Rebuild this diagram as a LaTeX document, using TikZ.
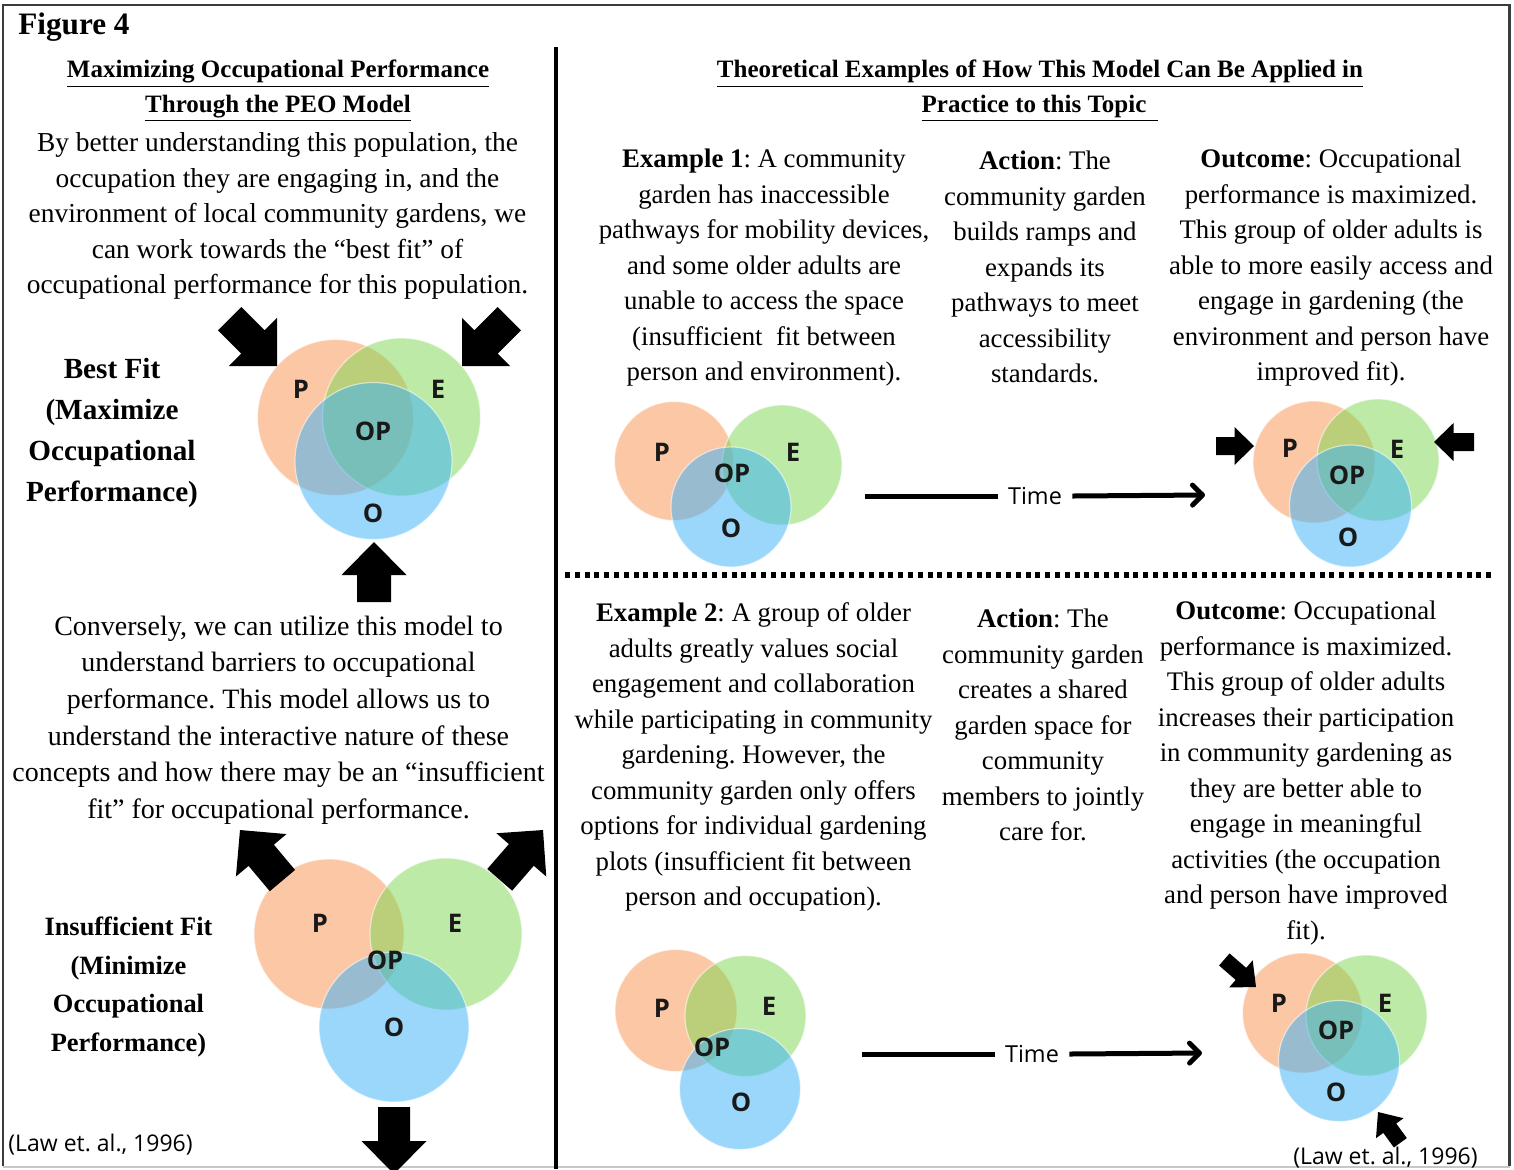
\documentclass[tikz,border=0pt]{standalone}
\usepackage{fontspec}
\setmainfont{Liberation Serif}
\newfontfamily\vennfont{Open Sans}
\newfontfamily\plainsans{Open Sans}
\usetikzlibrary{arrows.meta}
\definecolor{pcol}{RGB}{249,145,77}
\definecolor{ecol}{RGB}{125,215,81}
\definecolor{ocol}{RGB}{55,177,249}
\definecolor{framecol}{RGB}{60,60,60}
\newcommand{\blkarrow}[7]{%
  \fill[black, shift={(#1,#2)}, rotate=#3] (0,0) -- (-#5,#6/2) -- (-#5,#7/2) -- (-#4,#7/2)
    -- (-#4,-#7/2) -- (-#5,-#7/2) -- (-#5,-#6/2) -- cycle;}
\frenchspacing
\begin{document}
\begin{tikzpicture}[x=0.5pt,y=-0.5pt,
  vc/.style={circle, inner sep=0pt, outer sep=0pt, fill opacity=0.5, draw=white, draw opacity=0.55, line width=0.6pt},
  vP/.style={vc, fill=pcol},
  vE/.style={vc, fill=ecol},
  vO/.style={vc, fill=ocol},
  vlab/.style={inner sep=0pt, text=black!90, font=\vennfont\bfseries\fontsize{12.8}{15}\selectfont},
  body/.style={inner sep=0pt, align=center, font=\frenchspacing\fontsize{13.4}{17.75}\selectfont},
  bodyleft/.style={inner sep=0pt, align=center, font=\frenchspacing\fontsize{13.7}{17.75}\selectfont},
  bodywide/.style={inner sep=0pt, align=center, font=\frenchspacing\fontsize{14}{18.3}\selectfont},
  ttl/.style={inner sep=0pt, align=center, font=\bfseries\fontsize{12.5}{17.25}\selectfont},
  bestlab/.style={inner sep=0pt, align=center, font=\bfseries\fontsize{14.6}{20.5}\selectfont},
  insuflab/.style={inner sep=0pt, align=center, font=\bfseries\fontsize{13.2}{19.25}\selectfont},
  timelab/.style={inner sep=5pt, font=\plainsans\fontsize{11.7}{14}\selectfont},
  lawlab/.style={inner sep=0pt, font=\plainsans\fontsize{11.5}{14}\selectfont},
  timeline/.style={line width=2.5pt, line cap=butt},
  timearrow/.style={line width=2.5pt, -{Straight Barb[length=5pt,width=10pt,line cap=round,line join=round]}}
]
\useasboundingbox (0,0) rectangle (1514,1169);
\clip (0,0) rectangle (1514,1169);
\fill[white] (0,0) rectangle (1514,1169);

% frame
\draw[framecol, line width=1.2pt] (3,1166) -- (3,5) -- (1509.5,5) -- (1509.5,1166);
\draw[black!22, line width=1pt] (3,1166.5) -- (1509.5,1166.5);
% divider
\draw[black, line width=2pt] (555.5,47) -- (555.5,1169);
\draw[black, line width=3pt, dash pattern=on 2.5pt off 2.4pt] (565,575) -- (1492,575);

% figure label
\node[anchor=base west, inner sep=0pt, font=\bfseries\fontsize{15.6}{18}\selectfont] (figlabel) at (18,34.5) {Figure 4};

% ---------- left column ----------
\node[ttl] (lefttitle) at (278,91) {\underline{Maximizing Occupational Performance}\\\underline{Through the PEO Model}};
\node[bodyleft] (para1) at (277.5,216) {By better understanding this population, the\\
occupation they are engaging in, and the\\
environment of local community gardens, we\\
can work towards the “best fit” of\\
occupational performance for this population.};
\node[bestlab] (bestfit) at (112,433) {Best Fit\\(Maximize\\Occupational\\Performance)};

% best fit venn
\node[vP, minimum size=78pt] (bP) at (335.5,417.5) {};
\node[vE, minimum size=79pt] (bE) at (401.5,417) {};
\node[vO, minimum size=78.5pt] (bO) at (373.5,461) {};
\node[vlab] (bPl) at (301,389) {P};
\node[vlab] (bEl) at (438,389) {E};
\node[vlab] (bOPl) at (373,431) {OP};
\node[vlab] (bOl) at (373,513) {O};
\blkarrow{277}{366}{-45}{67}{34}{68}{33}
\blkarrow{462}{366}{-135}{67}{34}{68}{33}
\blkarrow{374}{542}{90}{60}{33}{65}{34}

\node[bodywide] (para2) at (278.5,720) {Conversely, we can utilize this model to\\
understand barriers to occupational\\
performance. This model allows us to\\
understand the interactive nature of these\\
concepts and how there may be an “insufficient\\
fit” for occupational performance.};
\node[insuflab] (insuf) at (128.5,987) {Insufficient Fit\\(Minimize\\Occupational\\Performance)};

% insufficient venn
\node[vP, minimum size=75pt] (iP) at (329,934) {};
\node[vE, minimum size=76pt] (iE) at (446,934) {};
\node[vO, minimum size=75pt] (iO) at (394,1027) {};
\node[vlab] (iPl) at (320,923) {P};
\node[vlab] (iEl) at (455,923) {E};
\node[vlab] (iOPl) at (385,960) {OP};
\node[vlab] (iOl) at (394,1027) {O};
\blkarrow{240}{830}{130}{66}{33}{66}{33}
\blkarrow{543}{830}{49}{66}{33}{66}{33}
\blkarrow{394}{1174}{-90}{67}{33}{65}{32}

\node[lawlab, anchor=west] (lawleft) at (8,1145) {(Law et. al., 1996)};

% ---------- right column ----------
\node[ttl] (righttitle) at (1040,91) {\underline{Theoretical Examples of How This Model Can Be Applied in}\\\underline{Practice to this Topic\hspace{6pt}}};

\node[body] (ex1) at (764,268) {\textbf{Example 1}: A community\\
garden has inaccessible\\
pathways for mobility devices,\\
and some older adults are\\
unable to access the space\\
(insufficient\ \ fit between\\
person and environment).};
\node[body] (act1) at (1045,267) {\textbf{Action}: The\\
community garden\\
builds ramps and\\
expands its\\
pathways to meet\\
accessibility\\
standards.};
\node[body] (out1) at (1331,268) {\textbf{Outcome}: Occupational\\
performance is maximized.\\
This group of older adults is\\
able to more easily access and\\
engage in gardening (the\\
environment and person have\\
improved fit).};

% example 1 venns
\node[vP, minimum size=59.5pt] (aP) at (674,461) {};
\node[vE, minimum size=60pt] (aE) at (782,465) {};
\node[vO, minimum size=60pt] (aO) at (731,507) {};
\node[vlab] (aPl) at (662,452) {P};
\node[vlab] (aEl) at (793,452) {E};
\node[vlab] (aOPl) at (732,473) {OP};
\node[vlab] (aOl) at (731,528) {O};

\coordinate (t1s) at (865,496);
\node[timelab] (time1) at (1035,496) {Time};
\coordinate (t1e) at (1205,495);
\draw[timeline] (t1s) -- (time1.west);
\draw[timearrow] (time1.east) -- (t1e);

\node[vP, minimum size=61pt] (cP) at (1314,462) {};
\node[vE, minimum size=61pt] (cE) at (1378,460) {};
\node[vO, minimum size=61pt] (cO) at (1350.5,506) {};
\node[vlab] (cPl) at (1290,448) {P};
\node[vlab] (cEl) at (1397,449) {E};
\node[vlab] (cOPl) at (1347,475) {OP};
\node[vlab] (cOl) at (1348,537) {O};
\blkarrow{1254}{446}{0}{38}{19.5}{38}{18}
\blkarrow{1434}{442}{180}{40}{19.5}{38}{18}

% example 2
\node[body] (ex2) at (753.5,757) {\textbf{Example 2}: A group of older\\
adults greatly values social\\
engagement and collaboration\\
while participating in community\\
gardening. However, the\\
community garden only offers\\
options for individual gardening\\
plots (insufficient fit between\\
person and occupation).};
\node[body] (act2) at (1043,725) {\textbf{Action}: The\\
community garden\\
creates a shared\\
garden space for\\
community\\
members to jointly\\
care for.};
\node[body] (out2) at (1306,773) {\textbf{Outcome}: Occupational\\
performance is maximized.\\
This group of older adults\\
increases their participation\\
in community gardening as\\
they are better able to\\
engage in meaningful\\
activities (the occupation\\
and person have improved\\
fit).};

\node[vP, minimum size=61pt] (dP) at (676,1010.5) {};
\node[vE, minimum size=60.5pt] (dE) at (745.5,1016) {};
\node[vO, minimum size=60.5pt] (dO) at (740,1089) {};
\node[vlab] (dPl) at (662,1008) {P};
\node[vlab] (dEl) at (769,1006) {E};
\node[vlab] (dOPl) at (712,1047) {OP};
\node[vlab] (dOl) at (741,1102) {O};

\coordinate (t2s) at (862,1054);
\node[timelab] (time2) at (1032,1054) {Time};
\coordinate (t2e) at (1202,1053);
\draw[timeline] (t2s) -- (time2.west);
\draw[timearrow] (time2.east) -- (t2e);

\node[vP, minimum size=60pt] (fP) at (1302.5,1013) {};
\node[vE, minimum size=60.5pt] (fE) at (1366.5,1015.5) {};
\node[vO, minimum size=60.5pt] (fO) at (1339,1061) {};
\node[vlab] (fPl) at (1279,1003) {P};
\node[vlab] (fEl) at (1385,1003) {E};
\node[vlab] (fOPl) at (1336,1030) {OP};
\node[vlab] (fOl) at (1336,1092) {O};
\blkarrow{1256}{987}{-41}{42}{20}{36}{16}
\blkarrow{1378}{1112}{126}{38}{20}{34}{16}

\node[lawlab, anchor=east] (lawright) at (1478,1158) {(Law et. al., 1996)};
\end{tikzpicture}
\end{document}
